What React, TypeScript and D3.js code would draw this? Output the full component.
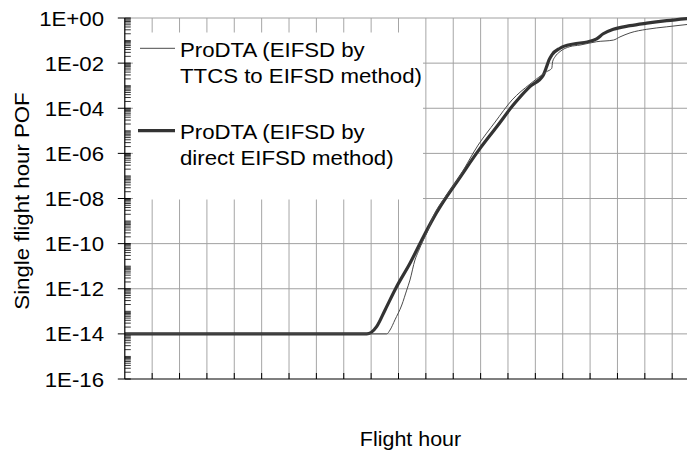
import React from "react";
import * as d3 from "d3";

const W = 687;
const H = 452;

// y-axis labelled values (every two decades)
const yMajorTicks = [1, 1e-2, 1e-4, 1e-6, 1e-8, 1e-10, 1e-12, 1e-14, 1e-16];
const yTickLabels = ["1E+00", "1E-02", "1E-04", "1E-06", "1E-08", "1E-10", "1E-12", "1E-14", "1E-16"];
// x-axis tick positions (no labels in source)
const xTicks = d3.range(0, 21);

// Series 1: ProDTA (EIFSD by TTCS to EIFSD method) - thin
const thinX = [0, 9.57, 9.69, 9.87, 10.12, 10.3, 10.42, 10.6, 10.72, 10.91, 11.03, 11.26, 11.73, 12.17, 12.91, 13.53, 14.15, 14.8, 15.41, 15.6, 15.63, 15.72, 15.9, 16.26, 16.63, 17.24, 17.85, 18.09, 18.46, 19.07, 19.8, 20.6];
const thinPOF = [1e-14, 1e-14, 1.48e-14, 4.17e-14, 1.9e-13, 8.7e-13, 2.45e-12, 1.86e-11, 4.37e-11, 1.45e-10, 2.88e-10, 1.51e-9, 1.29e-8, 7.24e-8, 2.34e-6, 2.45e-5, 2.34e-4, 1.17e-3, 4.17e-3, 5.89e-3, 1.15e-2, 1.91e-2, 3.24e-2, 5.37e-2, 6.31e-2, 8.91e-2, 0.105, 0.145, 0.219, 0.316, 0.407, 0.525];

// Series 2: ProDTA (EIFSD by direct EIFSD method) - thick
const thickX = [0, 8.84, 9.0, 9.2, 9.51, 9.93, 10.42, 10.85, 11.27, 11.76, 12.18, 12.98, 13.59, 14.19, 14.8, 15.29, 15.41, 15.5, 15.6, 15.9, 16.39, 16.9, 17.24, 17.48, 17.85, 18.46, 19.07, 19.8, 20.6];
const thickPOF = [1e-14, 1e-14, 1.15e-14, 2.09e-14, 1.15e-13, 1.23e-12, 1.35e-11, 1.45e-10, 1.32e-9, 1.2e-8, 6.6e-8, 1.66e-6, 1.51e-5, 1.38e-4, 9.1e-4, 2.95e-3, 6.9e-3, 1.38e-2, 2.29e-2, 4.57e-2, 7.08e-2, 8.7e-2, 0.12, 0.2, 0.316, 0.457, 0.589, 0.76, 0.955];

const legendLines = [
  ["ProDTA (EIFSD by", "TTCS to EIFSD method)"],
  ["ProDTA (EIFSD by", "direct EIFSD method)"],
];

const FONT = "'Liberation Sans', Arial, Helvetica, sans-serif";
const FS = 19.5;
const SX = 1.14;

const left = 124.8;
const top = 18;
const bottom = 379;
const step = 27.37;

const x = d3.scaleLinear().domain([0, 21]).range([left, left + 21 * step]);
const y = d3.scaleLog().domain([1e-16, 1]).range([bottom, top]);

function T({ x: tx, y: ty, rot = 0, anchor = "start", sx = SX, children }: any) {
  return (
    <text
      transform={`translate(${tx},${ty}) rotate(${rot}) scale(${sx},1)`}
      textAnchor={anchor}
      fontFamily={FONT}
      fontSize={FS}
      fill="#000"
    >
      {children}
    </text>
  );
}

export default function App() {
  const line = d3
    .line<[number, number]>()
    .x((d) => x(d[0]))
    .y((d) => y(d[1]))
    .curve(d3.curveMonotoneX);

  const thinData: [number, number][] = thinX.map((v, i) => [v, thinPOF[i]]);
  const thickData: [number, number][] = thickX.map((v, i) => [v, thickPOF[i]]);

  const minor: number[] = [];
  for (let e = -16; e < 0; e++) {
    for (let k = 1; k <= 9; k++) {
      if (k === 1 && e % 2 === 0) continue;
      minor.push(k * Math.pow(10, e));
    }
  }

  const right = W;

  return (
    <svg width={W} height={H} style={{ position: "absolute", left: 0, top: 0, background: "#fff" }}>
      <defs>
        <clipPath id="plot">
          <rect x={left} y={top - 4} width={right - left} height={bottom - top + 4} />
        </clipPath>
      </defs>
      <rect x={0} y={0} width={W} height={H} fill="#fff" />
      {/* vertical grid */}
      {xTicks.slice(1).map((t) => (
        <line key={"vg" + t} x1={x(t)} x2={x(t)} y1={top} y2={bottom} stroke="#a6a6a6" strokeWidth={1} />
      ))}
      {/* horizontal grid */}
      {yMajorTicks.slice(0, -1).map((t) => (
        <line key={"hg" + t} x1={left} x2={right} y1={y(t)} y2={y(t)} stroke="#a0a0a0" strokeWidth={1} />
      ))}
      {/* x ticks (inside) */}
      {xTicks.slice(1).map((t) => (
        <line key={"xt" + t} x1={x(t)} x2={x(t)} y1={bottom - 6} y2={bottom} stroke="#000" strokeWidth={1} />
      ))}
      {/* y minor ticks */}
      {minor.map((v, i) => (
        <line key={"mt" + i} x1={left} x2={left + 6} y1={y(v)} y2={y(v)} stroke="#000" strokeWidth={0.8} />
      ))}
      {/* y major ticks */}
      {yMajorTicks.map((t) => (
        <line key={"yt" + t} x1={left - 7} x2={left + 6} y1={y(t)} y2={y(t)} stroke="#000" strokeWidth={1} />
      ))}
      {/* legend background */}
      <rect x={133} y={32.5} width={290} height={167} fill="#fff" />
      {/* curves */}
      <g clipPath="url(#plot)">
        <path d={line(thickData) || ""} fill="none" stroke="#333" strokeWidth={3.2} strokeLinejoin="round" />
        <path d={line(thinData) || ""} fill="none" stroke="#4a4a4a" strokeWidth={1} strokeLinejoin="round" />
      </g>
      {/* axes */}
      <line x1={left} x2={left} y1={top} y2={bottom} stroke="#000" strokeWidth={1.2} />
      <line x1={left} x2={right} y1={bottom} y2={bottom} stroke="#000" strokeWidth={1.2} />
      {/* y tick labels */}
      {yMajorTicks.map((t, i) => (
        <T key={"yl" + t} x={104} y={y(t) + 7.6} anchor="end">
          {yTickLabels[i]}
        </T>
      ))}
      {/* axis titles */}
      <T x={29} y={201} rot={-90} anchor="middle">
        Single flight hour POF
      </T>
      <T x={410.5} y={446} anchor="middle" sx={1.1}>
        Flight hour
      </T>
      {/* legend */}
      <line x1={140} x2={175} y1={48.3} y2={48.3} stroke="#4a4a4a" strokeWidth={1} />
      <T x={180} y={56.7}>{legendLines[0][0]}</T>
      <T x={180} y={83.3}>{legendLines[0][1]}</T>
      <line x1={138} x2={175} y1={130.7} y2={130.7} stroke="#333" strokeWidth={3.2} />
      <T x={180} y={138.5}>{legendLines[1][0]}</T>
      <T x={180} y={165.3}>{legendLines[1][1]}</T>
    </svg>
  );
}
